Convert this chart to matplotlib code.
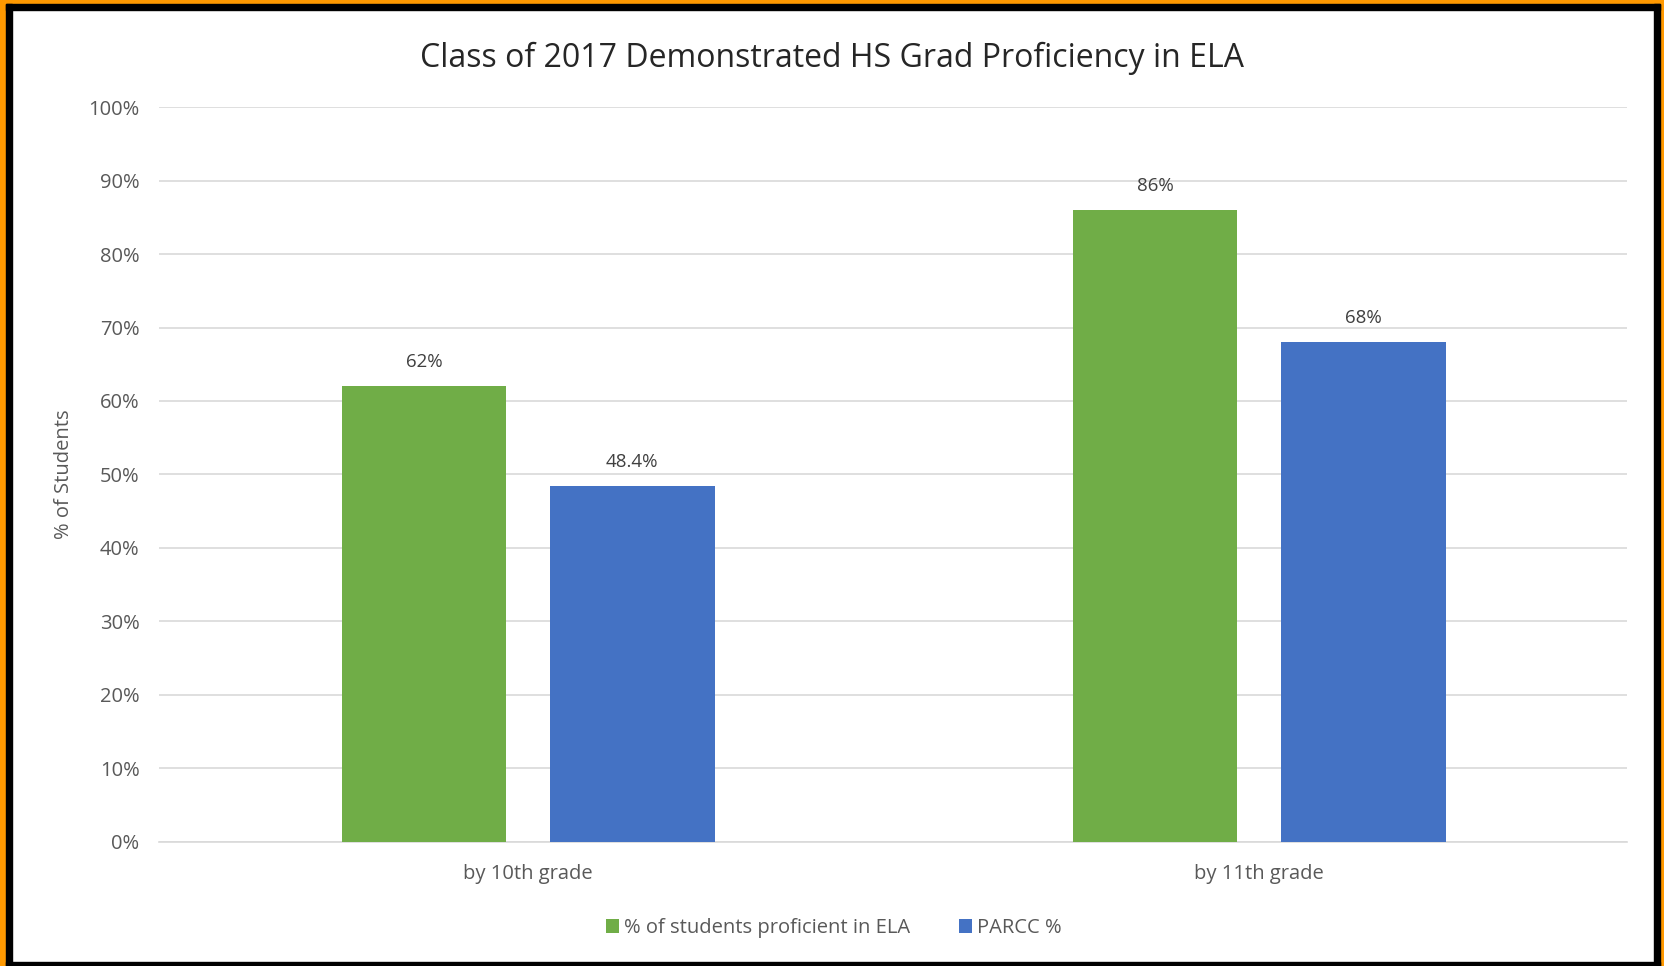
import numpy as np
import matplotlib.pyplot as plt
from matplotlib.patches import Rectangle

categories = ['by 10th grade', 'by 11th grade']
proficient = [62, 86]
parcc = [48.4, 68]
proficient_labels = ['62%', '86%']
parcc_labels = ['48.4%', '68%']
yticks = [0, 10, 20, 30, 40, 50, 60, 70, 80, 90, 100]

green = '#70ad47'
blue = '#4472c4'
txt = '#595959'

plt.rcParams['font.family'] = ['Open Sans', 'DejaVu Sans']

W, H = 1664, 966
fig = plt.figure(figsize=(W / 100, H / 100), dpi=100)
fig.patch.set_facecolor('white')

# rahmen: orange aussen, schwarz innen
def px_rect(x0, y0, x1, y1, color):
    fig.patches.append(Rectangle((x0 / W, 1 - y1 / H), (x1 - x0) / W, (y1 - y0) / H,
                                 transform=fig.transFigure, color=color, zorder=-10))

px_rect(0, 0, W, 4, '#ff9900')
px_rect(0, 0, 6, H, '#ff9900')
px_rect(1660, 0, W, H, '#ff9900')
px_rect(6, 4, 1660, 10, 'black')
px_rect(6, 4, 12, H, 'black')
px_rect(1654, 4, 1660, H, 'black')
px_rect(6, 962, 1660, H, 'black')

ax = fig.add_axes([159 / W, 1 - 841.6 / H, (1627 - 159) / W, (841.6 - 107.2) / H])
x = np.arange(len(categories))
bw = 0.225
off = 0.1424
b1 = ax.bar(x - off, proficient, bw, color=green, label='% of students proficient in ELA', zorder=3)
b2 = ax.bar(x + off, parcc, bw, color=blue, label='PARCC %', zorder=3)

for bars, labs in [(b1, proficient_labels), (b2, parcc_labels)]:
    for r, lab in zip(bars, labs):
        ax.annotate(lab, (r.get_x() + r.get_width() / 2, r.get_height()), xytext=(0, 11),
                    textcoords='offset points', ha='center', va='bottom', fontsize=13.5, color='#404040')

ax.set_xlim(-0.505, 1.503)
ax.set_ylim(0, 100)
ax.set_yticks(yticks)
ax.set_yticklabels(['%d%%' % v for v in yticks])
ax.set_xticks(x)
ax.set_xticklabels(categories)
ax.tick_params(axis='both', length=0, colors=txt, labelsize=14.5)
ax.tick_params(axis='x', pad=16)
ax.tick_params(axis='y', pad=14)
ax.yaxis.grid(True, color='#d9d9d9', linewidth=1.2, zorder=0)
for s in ['top', 'right', 'left']:
    ax.spines[s].set_visible(False)
ax.spines['bottom'].set_color('#d9d9d9')
ax.spines['bottom'].set_linewidth(1.2)

ax.set_ylabel('% of Students', fontsize=14.5, color=txt, labelpad=10)

fig.text(832 / W, 1 - 58 / H, 'Class of 2017 Demonstrated HS Grad Proficiency in ELA',
         ha='center', va='center', fontsize=23, color='#262626')

fig.legend(loc='center', bbox_to_anchor=(834 / W, 1 - 928 / H), ncol=2, frameon=False,
           fontsize=14.5, labelcolor=txt, handlelength=0.65, handleheight=0.65,
           handletextpad=0.25, columnspacing=2.4)

fig.savefig('out.png', dpi=100)
